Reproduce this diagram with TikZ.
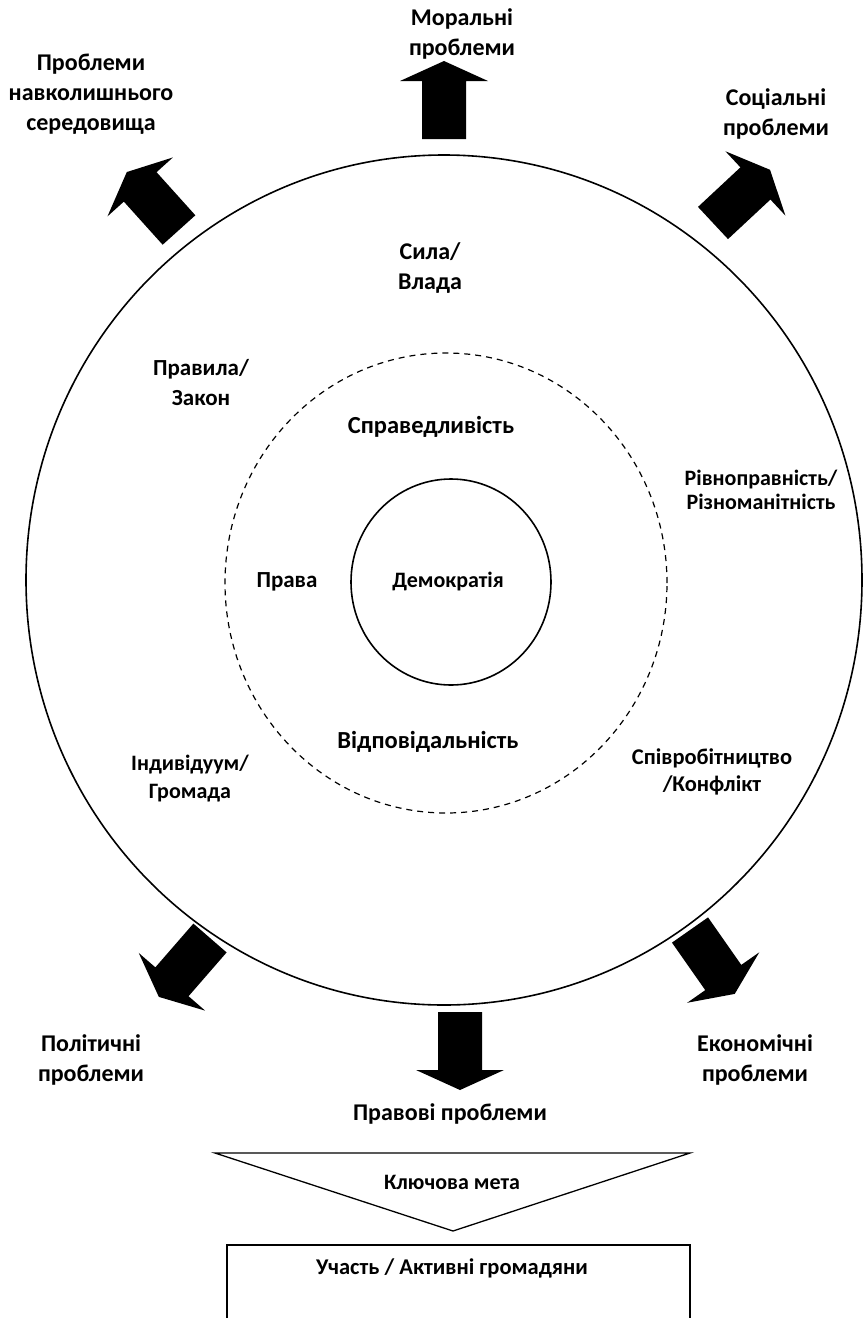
\documentclass[tikz,border=0pt]{standalone}
\usepackage{fontspec}
\setmainfont{Carlito}
\usetikzlibrary{shapes.geometric}
\begin{document}
\begin{tikzpicture}[x=1pt,y=-1pt,
  lbl/.style={align=center, inner sep=0pt, font=\fontsize{24}{30}\selectfont\bfseries},
  lblsize/.style 2 args={align=center, inner sep=0pt, font=\fontsize{#1}{#2}\selectfont\bfseries},
  ring/.style={draw, line width=1.6pt, inner sep=0pt},
  bigarrow/.pic={\fill[black] (0,-22) -- (58,-22) -- (58,-44) -- (78,0) -- (58,44) -- (58,22) -- (0,22) -- cycle;}
]
\useasboundingbox (0,0) rectangle (864,1318);
\clip (0,0) rectangle (864,1318);

% rings
\node[ring, ellipse, minimum width=836pt, minimum height=850pt] (outer) at (444,580) {};
\node[ring, ellipse, dashed, line width=1.2pt, dash pattern=on 6pt off 5pt,
      minimum width=442pt, minimum height=460pt] (middle) at (446,583) {};
\node[ring, ellipse, minimum width=200pt, minimum height=206pt] (core) at (451,582) {};

% outward arrows
\pic[rotate=90]  at (444,139)  {bigarrow};
\pic[rotate=132] at (179,230)  {bigarrow};
\pic[rotate=43]  at (713,223)  {bigarrow};
\pic[rotate=229] at (210,938)  {bigarrow};
\pic[rotate=-90] at (460,1012) {bigarrow};
\pic[rotate=-55] at (690,930)  {bigarrow};

% issue labels
\node[lbl] (moral)  at (462,34)   {Моральні\\проблеми};
\node[lbl] (env)    at (91,94)    {Проблеми\\навколишнього\\середовища};
\node[lbl] (social) at (776,114)  {Соціальні\\проблеми};
\node[lbl] (polit)  at (91,1060)  {Політичні\\проблеми};
\node[lbl] (econ)   at (755,1060) {Економічні\\проблеми};
\node[lbl] (legal)  at (450,1114) {Правові проблеми};

% concepts inside the rings
\node[lbl] (power)  at (430,268)  {Сила/\\Влада};
\node[lblsize={23}{30}] (rules)  at (201,383)  {Правила/\\Закон};
\node[lblsize={22}{24}] (equal) at (761,490) {Рівноправність/\\Різноманітність};
\node[lblsize={22.5}{27}] (coop)  at (712,772)  {Співробітництво\\/Конфлікт};
\node[lblsize={22}{28}] (indiv) at (190,779)  {Індивідуум/\\Громада};
\node[lblsize={24.5}{30}] (justice) at (431,427) {Справедливість};
\node[lblsize={23}{30}] (rights)  at (287,582) {Права};
\node[lblsize={24.5}{30}] (resp)    at (428,742) {Відповідальність};
\node[lblsize={22}{30}] (demo)  at (448,582) {Демократія};

% key goal
\coordinate (tl) at (215,1153);
\coordinate (tr) at (690,1153);
\coordinate (tb) at (453,1231);
\draw[line width=1.3pt] (tl) -- (tr) -- (tb) -- cycle;
\node[lblsize={22}{30}] (goal) at (452,1182) {Ключова мета};

\coordinate (bl) at (227,1340);
\coordinate (btl) at (227,1245);
\coordinate (btr) at (690,1245);
\coordinate (br) at (690,1340);
\draw[line width=1.3pt] (bl) -- (btl) -- (btr) -- (br);
\node[lblsize={22.5}{30}] (part) at (452,1268) {Участь / Активні громадяни};
\end{tikzpicture}
\end{document}
